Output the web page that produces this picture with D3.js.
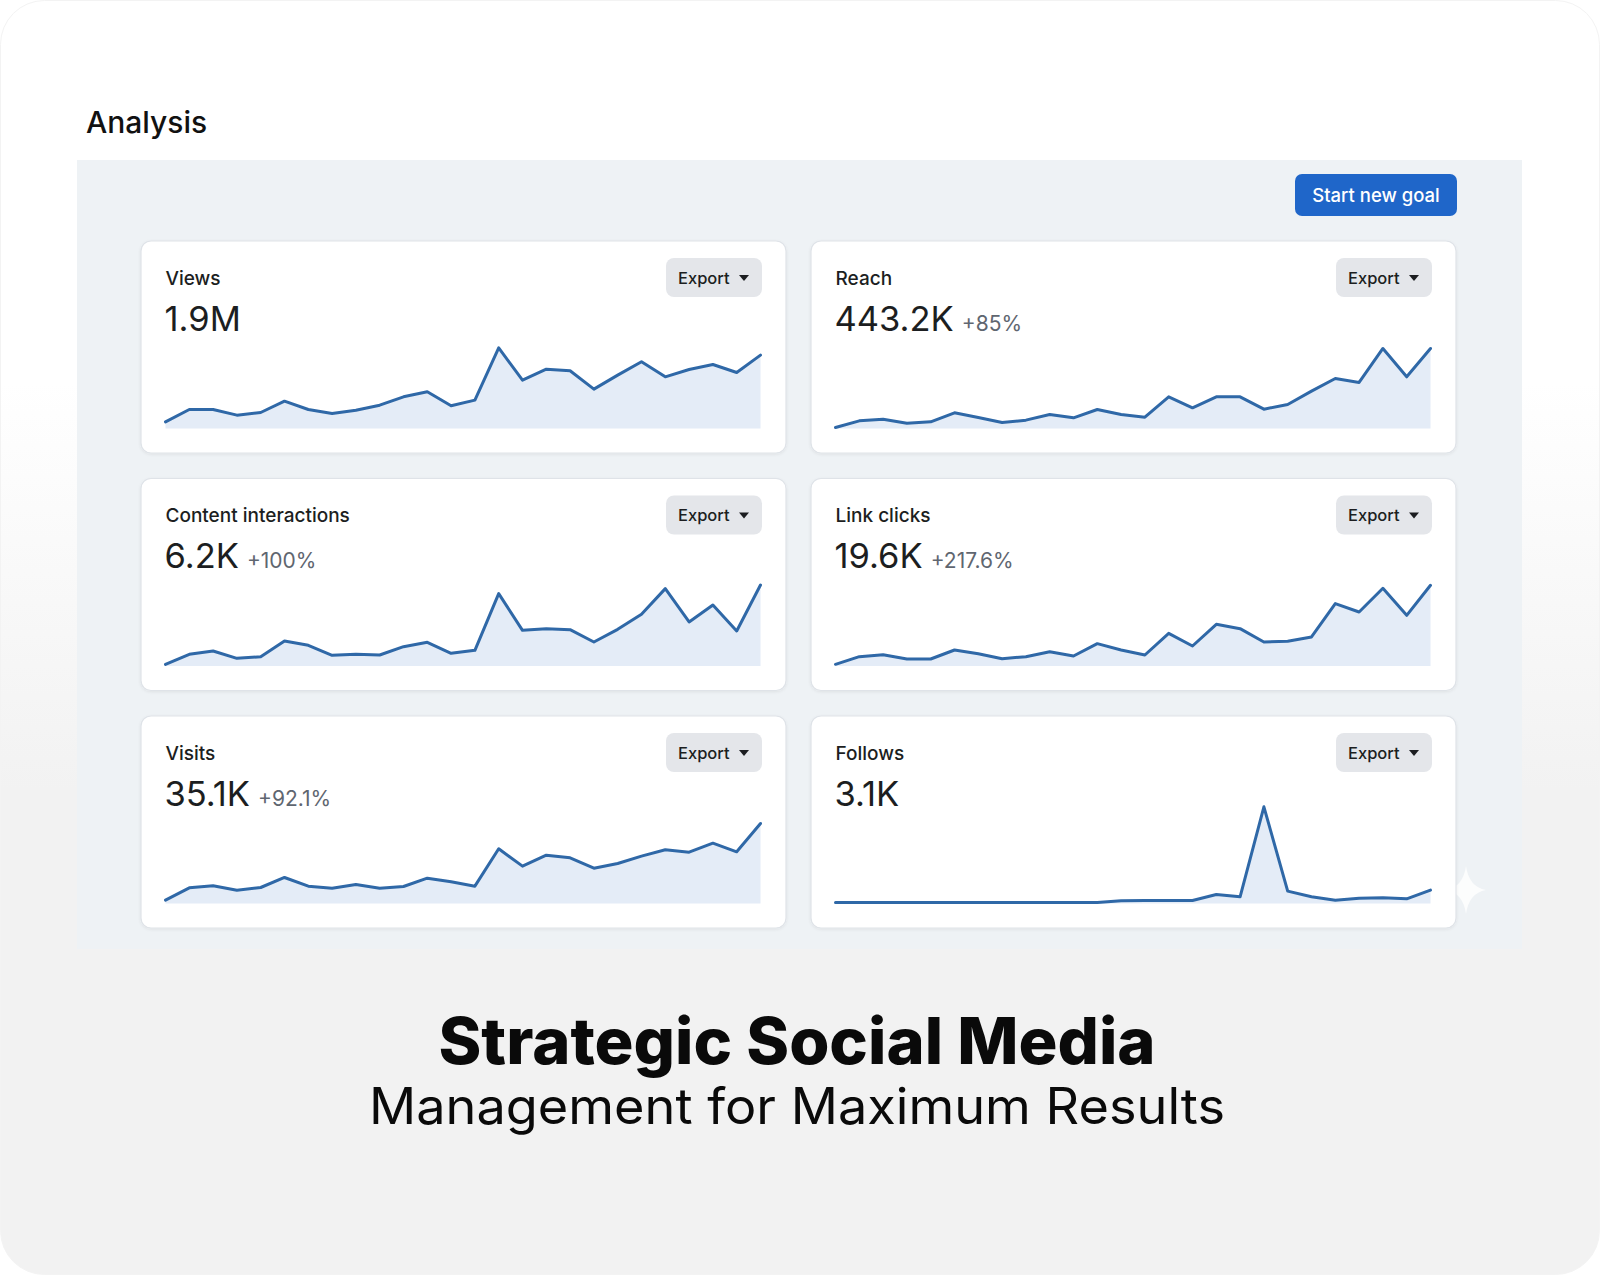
<!DOCTYPE html>
<html>
<head>
<meta charset="utf-8">
<script src="https://cdn.jsdelivr.net/npm/d3@7"></script>
<style>
  body { margin: 0; background: #ffffff; }
  svg { display: block; font-family: Inter, 'Liberation Sans', sans-serif; }
</style>
</head>
<body>
<div id="chart"></div>
<script>
// data
var pageTitle = 'Analysis';
var goalLabel = 'Start new goal';
var exportLabel = 'Export';
var headline = 'Strategic Social Media';
var subline = 'Management for Maximum Results';

var metricNames = ['Views', 'Reach', 'Content interactions', 'Link clicks', 'Visits', 'Follows'];
var metricTotals = ['1.9M', '443.2K', '6.2K', '19.6K', '35.1K', '3.1K'];
var metricChanges = ['', '+85%', '+100%', '+217.6%', '+92.1%', ''];

var viewsValues = [20, 57, 57, 40, 48, 82, 57, 45, 55, 70, 95, 110, 68, 85, 242, 145, 178, 173, 118, 160, 200, 155, 177, 192, 168, 220];
var reachValues = [3, 23, 28, 16, 20, 47, 33, 18, 25, 42, 32, 57, 42, 34, 95, 62, 95, 95, 58, 72, 112, 150, 138, 240, 155, 240];
var interactionValues = [5, 35, 45, 23, 28, 75, 62, 32, 35, 33, 58, 71, 38, 47, 217, 107, 112, 109, 72, 110, 155, 232, 132, 183, 105, 243];
var linkClickValues = [5, 28, 34, 21, 21, 48, 37, 22, 28, 43, 30, 67, 48, 33, 98, 60, 125, 112, 72, 74, 87, 187, 162, 233, 152, 242];
var visitValues = [10, 47, 53, 40, 48, 78, 52, 46, 57, 46, 51, 76, 65, 52, 164, 112, 145, 137, 106, 120, 142, 161, 154, 181, 155, 240];
var followValues = [3, 3, 3, 3, 3, 3, 3, 3, 3, 3, 3, 3, 8, 9, 9, 9, 27, 20, 290, 37, 20, 10, 16, 17, 14, 40];

var metricSeries = [viewsValues, reachValues, interactionValues, linkClickValues, visitValues, followValues];

var metrics = metricNames.map((name, i) => ({
  name: name,
  total: metricTotals[i],
  change: metricChanges[i],
  values: metricSeries[i]
}));

// dimensions
var dimensions = {
  width: 1600,
  height: 1275,
  panel: { x: 77, y: 160, width: 1445, height: 789 },
  card: { width: 645, height: 212, left: 141, top: 241, colStep: 670, rowStep: 237.5 },
  plot: { left: 24.5, right: 619.5, top: 90.8, bottom: 187.5 }
};

var svg = d3.select('#chart')
  .append('svg')
  .attr('width', dimensions.width)
  .attr('height', dimensions.height);

var defs = svg.append('defs');

var bgGradient = defs.append('linearGradient')
  .attr('id', 'bg-gradient')
  .attr('x1', 0).attr('y1', 0)
  .attr('x2', 0).attr('y2', 1);
bgGradient.append('stop').attr('offset', '0%').attr('stop-color', '#ffffff');
bgGradient.append('stop').attr('offset', '30%').attr('stop-color', '#ffffff');
bgGradient.append('stop').attr('offset', '62%').attr('stop-color', '#f2f2f2');
bgGradient.append('stop').attr('offset', '100%').attr('stop-color', '#f2f2f2');

var cardShadow = defs.append('filter')
  .attr('id', 'card-shadow')
  .attr('x', '-5%').attr('y', '-5%')
  .attr('width', '110%').attr('height', '115%');
cardShadow.append('feDropShadow')
  .attr('dx', 0).attr('dy', 1)
  .attr('stdDeviation', 1.5)
  .attr('flood-color', '#000')
  .attr('flood-opacity', 0.07);

// background card
svg.append('rect')
  .attr('x', 0.5).attr('y', 0.5)
  .attr('width', dimensions.width - 1)
  .attr('height', dimensions.height - 1)
  .attr('rx', 44)
  .attr('fill', 'url(#bg-gradient)')
  .attr('stroke', '#f3f3f3')
  .attr('stroke-width', 1);

svg.append('text')
  .attr('x', 86)
  .attr('y', 133)
  .attr('fill', '#111111')
  .style('font-size', '30px')
  .style('font-weight', 500)
  .text(pageTitle);

// dashboard panel
svg.append('rect')
  .attr('x', dimensions.panel.x)
  .attr('y', dimensions.panel.y)
  .attr('width', dimensions.panel.width)
  .attr('height', dimensions.panel.height)
  .attr('fill', '#eef2f5');

// sparkle mark peeking out behind the last card
svg.append('path')
  .attr('transform', 'translate(1466,890)')
  .attr('d', 'M0,-24 Q3,-3 20,0 Q3,3 0,24 Q-3,3 -20,0 Q-3,-3 0,-24Z')
  .attr('fill', '#ffffff')
  .attr('opacity', 0.8);

var goal = svg.append('g')
  .attr('transform', 'translate(1295,174)');
goal.append('rect')
  .attr('width', 162)
  .attr('height', 42)
  .attr('rx', 7)
  .attr('fill', '#1f66c9');
goal.append('text')
  .attr('x', 81)
  .attr('y', 27.5)
  .attr('text-anchor', 'middle')
  .attr('fill', '#ffffff')
  .style('font-size', '18.5px')
  .style('font-weight', 500)
  .text(goalLabel);

// scales
var xScale = d3.scaleLinear()
  .domain([0, viewsValues.length - 1])
  .range([dimensions.plot.left, dimensions.plot.right]);

var yScale = d3.scaleLinear()
  .domain([0, d3.max(metricSeries.flat())])
  .range([dimensions.plot.bottom, dimensions.plot.top]);

var area = d3.area()
  .x((d, i) => xScale(i))
  .y0(yScale(0))
  .y1(d => yScale(d));

var line = d3.line()
  .x((d, i) => xScale(i))
  .y(d => yScale(d));

// cards
var cards = svg.append('g')
  .selectAll('g')
  .data(metrics)
  .join('g')
  .attr('transform', (d, i) => 'translate(' +
    (dimensions.card.left + (i % 2) * dimensions.card.colStep) + ',' +
    (dimensions.card.top + Math.floor(i / 2) * dimensions.card.rowStep) + ')');

cards.append('rect')
  .attr('width', dimensions.card.width)
  .attr('height', dimensions.card.height)
  .attr('rx', 10)
  .attr('fill', '#ffffff')
  .attr('stroke', '#dfe3e8')
  .attr('stroke-width', 1.2)
  .attr('filter', 'url(#card-shadow)');

cards.append('text')
  .attr('x', 24.5)
  .attr('y', 43.5)
  .attr('fill', '#1c1e21')
  .style('font-size', '19px')
  .style('font-weight', 500)
  .text(d => d.name);

var totalText = cards.append('text')
  .attr('x', 23.5)
  .attr('y', 89.5)
  .attr('fill', '#1c1e21')
  .style('font-size', '34.5px')
  .style('font-weight', 400);
totalText.append('tspan')
  .text(d => d.total);
totalText.append('tspan')
  .attr('dx', 8)
  .attr('fill', '#5f6670')
  .style('font-size', '21px')
  .text(d => d.change);

var exportButton = cards.append('g')
  .attr('transform', 'translate(525,17)');
exportButton.append('rect')
  .attr('width', 96)
  .attr('height', 39)
  .attr('rx', 8)
  .attr('fill', '#e4e6ea');
exportButton.append('text')
  .attr('x', 12)
  .attr('y', 25.5)
  .attr('fill', '#1c1e21')
  .style('font-size', '16.5px')
  .style('font-weight', 500)
  .text(exportLabel);
exportButton.append('path')
  .attr('d', 'M73,17 L83,17 L78,23 Z')
  .attr('fill', '#1c1e21');

// sparklines
cards.append('path')
  .attr('d', d => area(d.values))
  .attr('fill', '#e4ecf7');

cards.append('path')
  .attr('d', d => line(d.values))
  .attr('fill', 'none')
  .attr('stroke', '#2f68a7')
  .attr('stroke-width', 3)
  .attr('stroke-linejoin', 'round')
  .attr('stroke-linecap', 'round');

// headline
svg.append('text')
  .attr('x', 797)
  .attr('y', 1064)
  .attr('text-anchor', 'middle')
  .attr('fill', '#0a0a0a')
  .attr('textLength', 717)
  .attr('lengthAdjust', 'spacingAndGlyphs')
  .style('font-size', '64px')
  .style('font-weight', 800)
  .text(headline);

svg.append('text')
  .attr('x', 797)
  .attr('y', 1124)
  .attr('text-anchor', 'middle')
  .attr('fill', '#0a0a0a')
  .attr('textLength', 856)
  .attr('lengthAdjust', 'spacingAndGlyphs')
  .style('font-size', '50px')
  .style('font-weight', 400)
  .text(subline);
</script>
</body>
</html>
